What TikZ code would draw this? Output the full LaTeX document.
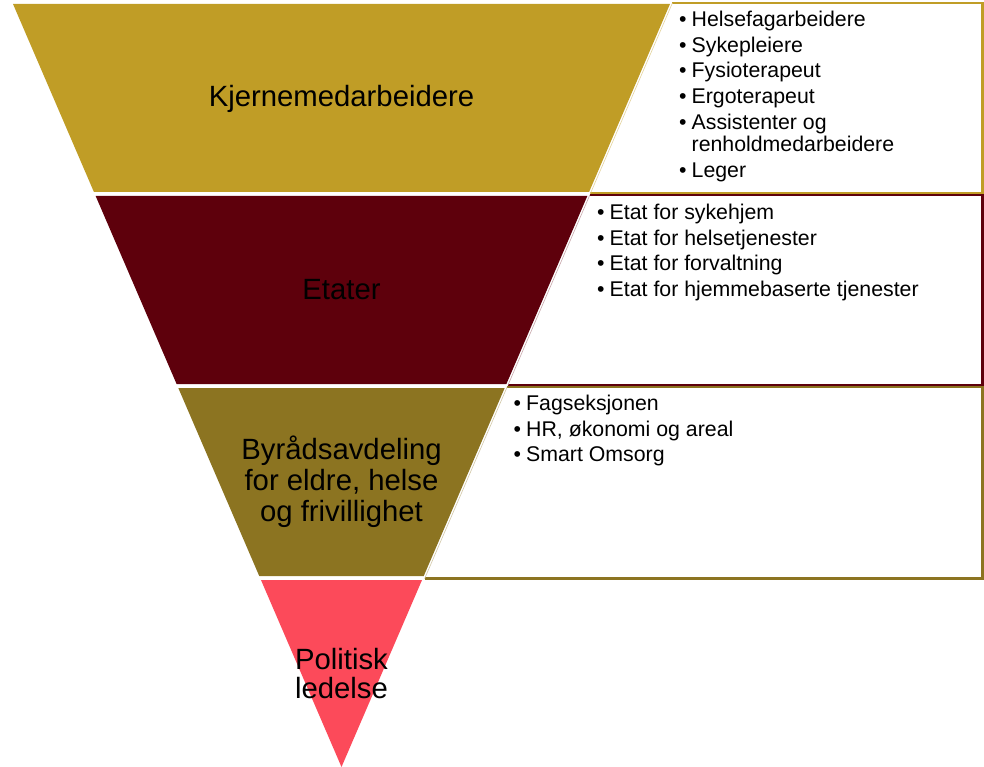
\documentclass[tikz,border=0pt]{standalone}
\usepackage{fontspec}
\setmainfont{Liberation Sans}
\definecolor{cgold}{HTML}{C09D26}
\definecolor{cdark}{HTML}{5E000C}
\definecolor{colive}{HTML}{8C7421}
\definecolor{cpink}{HTML}{FC4A5A}
\newcommand\mybullet{\makebox[12.5pt][l]{•}}
\begin{document}
\begin{tikzpicture}[x=1pt,y=-1pt,
  boxborder/.style={line width=2.6pt, line join=miter},
  boxedge/.style={line width=0.6pt},
  bigtext/.style={font=\fontsize{29.3}{30}\selectfont, anchor=base, inner sep=0pt, text=black},
  itemtext/.style={font=\fontsize{21.3}{22}\selectfont, anchor=base west, inner sep=0pt, text=black}]
\useasboundingbox (0,0) rectangle (984,767);

% text boxes
\fill[white] (672.4,3) -- (982.7,3) -- (982.7,193.5) -- (590.4,193.5) -- cycle;
\draw[boxborder, cgold] (672.4,3) -- (982.7,3) -- (982.7,193.5) -- (590.4,193.5);
\draw[boxedge, cgold!45] (590.4,193.5) -- (672.4,3);

\fill[white] (589.8,195) -- (982.7,195) -- (982.7,385.5) -- (507.8,385.5) -- cycle;
\draw[boxborder, cdark] (589.8,195) -- (982.7,195) -- (982.7,385.5) -- (507.8,385.5);
\draw[boxedge, cdark!35] (507.8,385.5) -- (589.8,195);

\fill[white] (507.2,386.8) -- (982.7,386.8) -- (982.7,578.7) -- (424.6,578.7) -- cycle;
\draw[boxborder, colive] (507.2,386.8) -- (982.7,386.8) -- (982.7,578.7) -- (424.6,578.7);
\draw[boxedge, colive!40] (424.6,578.7) -- (507.2,386.8);

% pyramid bands
\fill[cgold]  (13,4) -- (670,4) -- (589.07,192) -- (93.93,192) -- cycle;
\fill[cdark]  (95.66,196) -- (587.34,196) -- (506.41,384) -- (176.59,384) -- cycle;
\fill[colive] (178.31,388) -- (504.69,388) -- (423.75,576) -- (259.25,576) -- cycle;
\fill[cpink]  (260.97,580) -- (422.03,580) -- (341.5,767) -- cycle;

% band labels
\node[bigtext] (kjerne) at (341.5,107) {Kjernemedarbeidere};
\node[bigtext] (etater) at (341.5,299) {Etater};
\node[bigtext] (byr1) at (341.5,459.5) {Byrådsavdeling};
\node[bigtext] (byr2) at (341.5,490.5) {for eldre, helse};
\node[bigtext] (byr3) at (341.5,521.5) {og frivillighet};
\node[bigtext] (pol1) at (341.5,669) {Politisk};
\node[bigtext] (pol2) at (341.5,698) {ledelse};

% box 1 items
\node[itemtext] (a1) at (679,26.7) {\mybullet Helsefagarbeidere};
\node[itemtext] (a2) at (679,52.3) {\mybullet Sykepleiere};
\node[itemtext] (a3) at (679,77.8) {\mybullet Fysioterapeut};
\node[itemtext] (a4) at (679,103.3) {\mybullet Ergoterapeut};
\node[itemtext] (a5) at (679,129.5) {\mybullet Assistenter og};
\node[itemtext] (a6) at (691.5,151.5) {renholdmedarbeidere};
\node[itemtext] (a7) at (679,177.3) {\mybullet Leger};

% box 2 items
\node[itemtext] (e1) at (597,219.3) {\mybullet Etat for sykehjem};
\node[itemtext] (e2) at (597,245) {\mybullet Etat for helsetjenester};
\node[itemtext] (e3) at (597,270.5) {\mybullet Etat for forvaltning};
\node[itemtext] (e4) at (597,296) {\mybullet Etat for hjemmebaserte tjenester};

% box 3 items
\node[itemtext] (f1) at (513.5,410.7) {\mybullet Fagseksjonen};
\node[itemtext] (f2) at (513.5,436.7) {\mybullet HR, økonomi og areal};
\node[itemtext] (f3) at (513.5,461.7) {\mybullet Smart Omsorg};
\end{tikzpicture}
\end{document}
